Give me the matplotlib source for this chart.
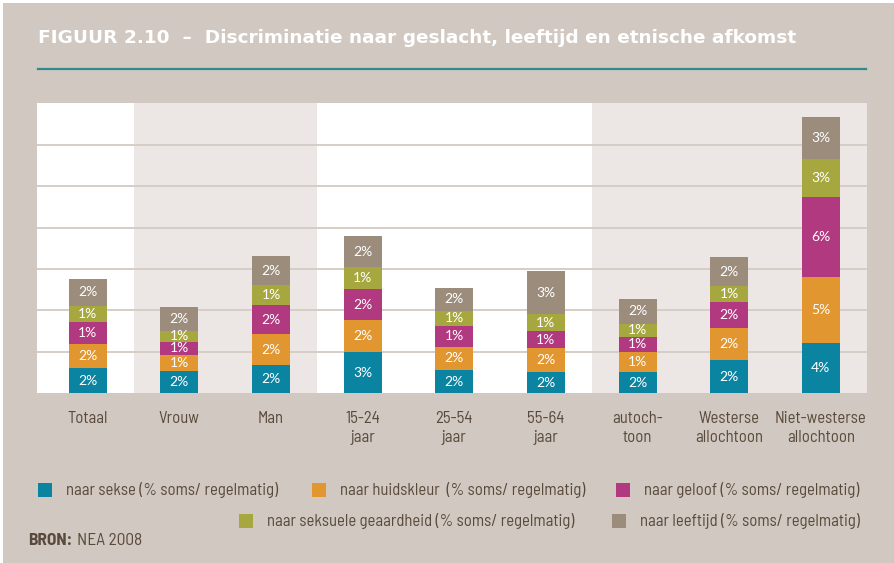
import matplotlib
matplotlib.use("Agg")
import matplotlib.pyplot as plt
import numpy as np
from matplotlib.patches import Rectangle

# ---------------- data ----------------
categories = ["Totaal", "Vrouw", "Man", "15-24\njaar", "25-54\njaar", "55-64\njaar",
              "autoch-\ntoon", "Westerse\nallochtoon", "Niet-westerse\nallochtoon"]

series_names = ["naar sekse (% soms/ regelmatig)",
                "naar huidskleur  (% soms/ regelmatig)",
                "naar geloof (% soms/ regelmatig)",
                "naar seksuele geaardheid (% soms/ regelmatig)",
                "naar leeftijd (% soms/ regelmatig)"]

sekse       = [1.83, 1.62, 2.05, 2.99, 1.69, 1.54, 1.54, 2.41, 3.64]
huidskleur  = [1.74, 1.16, 2.24, 2.32, 1.67, 1.74, 1.45, 2.32, 4.78]
geloof      = [1.59, 0.94, 2.10, 2.24, 1.52, 1.23, 1.09, 1.88, 5.79]
seksueel    = [1.16, 0.80, 1.45, 1.59, 1.09, 1.23, 0.94, 1.16, 2.75]
leeftijd    = [1.96, 1.74, 2.10, 2.24, 1.67, 3.11, 1.81, 2.10, 3.04]

lab_sekse      = ["2%", "2%", "2%", "3%", "2%", "2%", "2%", "2%", "4%"]
lab_huidskleur = ["2%", "1%", "2%", "2%", "2%", "2%", "1%", "2%", "5%"]
lab_geloof     = ["1%", "1%", "2%", "2%", "1%", "1%", "1%", "2%", "6%"]
lab_seksueel   = ["1%", "1%", "1%", "1%", "1%", "1%", "1%", "1%", "3%"]
lab_leeftijd   = ["2%", "2%", "2%", "2%", "2%", "3%", "2%", "2%", "3%"]

y_ticks = [0, 3, 6, 9, 12, 15, 18, 21]

# ---------------- style ----------------
W, H = 894, 563
BG = "#d0c8c1"
BAND = "#ece7e4"
GRID = "#d5cdc6"
TXT = "#5a4a3b"
colors = ["#0b84a2", "#e2962f", "#b0397f", "#a6a83f", "#9b8c7c"]
COND = ["Barlow Semi Condensed", "Barlow Condensed", "DejaVu Sans"]

fig = plt.figure(figsize=(W / 100, H / 100), dpi=100, facecolor="white")

def fx(px):
    return px / W

def fy(py):
    return 1 - py / H

# background panel
fig.patches.append(Rectangle((fx(3), 0), 1, fy(3), transform=fig.transFigure,
                             facecolor=BG, edgecolor="none", zorder=-10))

# title
fig.text(fx(38), fy(38), "FIGUUR 2.10  –  Discriminatie naar geslacht, leeftijd en etnische afkomst",
         color="white", fontsize=13.3, fontweight="bold", family="DejaVu Sans",
         ha="left", va="center")
fig.add_artist(plt.Line2D([fx(38), fx(866)], [fy(69), fy(69)], transform=fig.transFigure,
                          color="#2f8a8c", lw=1.6))

# axes
left, right, top, bottom = 37.3, 866.7, 103.3, 393.3
ax = fig.add_axes([fx(left), fy(bottom), fx(right - left), (bottom - top) / H])
ax.set_facecolor("white")
n = len(categories)
x = np.arange(n)
ax.set_xlim(-0.55, n - 0.5)
ax.set_ylim(0, y_ticks[-1])

for b0, b1 in [(0.5, 2.5), (5.5, n - 0.5)]:
    ax.axvspan(b0, b1, facecolor=BAND, edgecolor="none", zorder=0)

for t in y_ticks[1:-1]:
    ax.axhline(t, color=GRID, lw=1.4, zorder=1)

data = [sekse, huidskleur, geloof, seksueel, leeftijd]
labels = [lab_sekse, lab_huidskleur, lab_geloof, lab_seksueel, lab_leeftijd]
bottoms = np.zeros(n)
for vals, labs, c in zip(data, labels, colors):
    vals = np.array(vals)
    ax.bar(x, vals, width=0.415, bottom=bottoms, color=c, zorder=3, linewidth=0)
    for xi, b, v, l in zip(x, bottoms, vals, labs):
        ax.text(xi, b + v / 2, l, ha="center", va="center", color="white",
                fontsize=10, family=["Lato", "DejaVu Sans"], zorder=4)
    bottoms = bottoms + vals

for s in ax.spines.values():
    s.set_visible(False)
ax.set_yticks([])
ax.set_xticks(x)
ax.set_xticklabels(categories, color=TXT, fontsize=12, family=COND, linespacing=1.32)
ax.tick_params(axis="x", length=0, pad=12.5)

# legend
legend_pos = [(38, 490), (312, 490), (616, 490), (239, 521), (612, 521)]
for (lx, ly), name, c in zip(legend_pos, series_names, colors):
    fig.patches.append(Rectangle((fx(lx), fy(ly + 7)), 14 / W, 14 / H,
                                 transform=fig.transFigure, facecolor=c, edgecolor="none"))
    fig.text(fx(lx + 28), fy(ly), name, color=TXT, fontsize=12, family=COND,
             ha="left", va="center")

fig.text(fx(28.5), fy(540.5), "BRON:", color=TXT, fontsize=12.5, fontweight="bold",
         family=COND, ha="left", va="center")
fig.text(fx(77), fy(540.5), "NEA 2008", color=TXT, fontsize=12.5, family=COND,
         ha="left", va="center")

fig.savefig("out.png", dpi=100, facecolor=fig.get_facecolor())
